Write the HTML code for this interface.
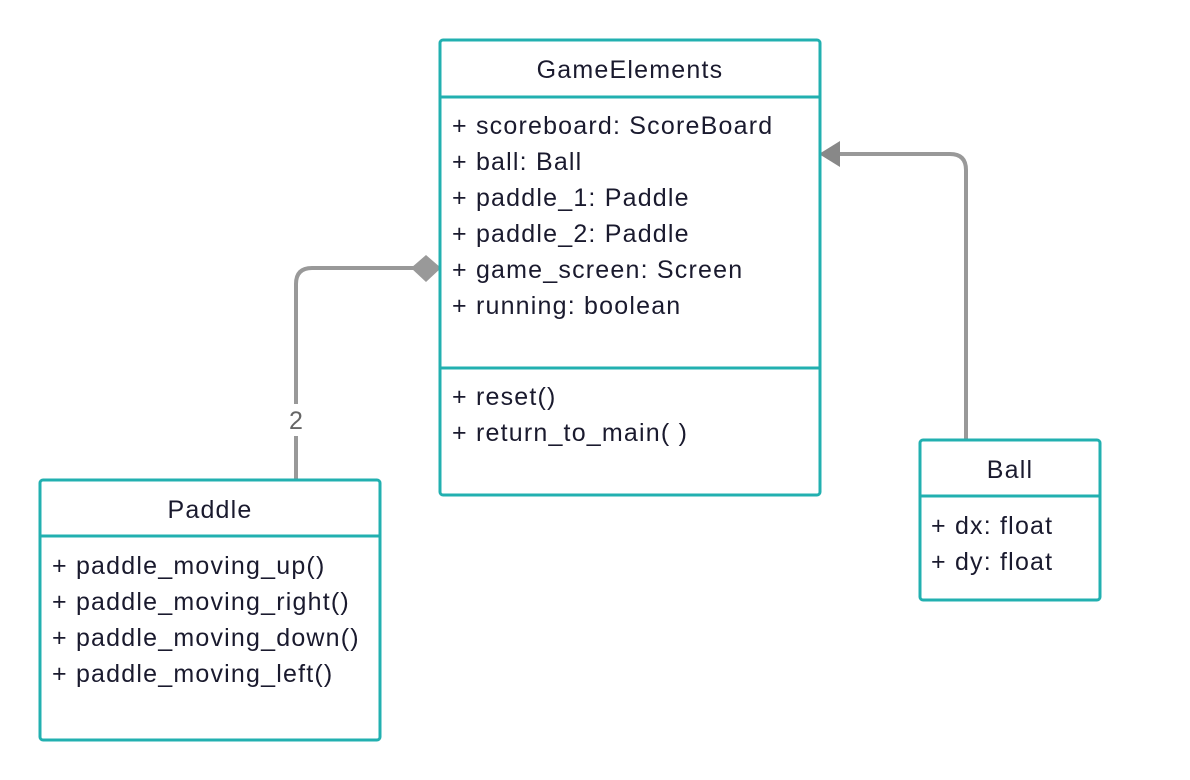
<!DOCTYPE html>
<html><head><style>body{margin:0;background:#fff}svg{display:block}</style></head>
<body>
<svg width="1190" height="780" xmlns="http://www.w3.org/2000/svg" font-family="Liberation Sans, sans-serif" font-size="25" letter-spacing="1.2" fill="#1a1a2e">
<g fill="none" stroke="#999" stroke-width="4">
<path d="M296 480 V436 M296 404 V284 Q296 268 312 268 H415"/>
<path d="M966 440 V170 Q966 154 950 154 H836"/>
</g>
<polygon points="411,268 426,255 441,268 426,282" fill="#999"/>
<polygon points="819,154 840,141 840,167" fill="#888"/>
<text x="296" y="429" text-anchor="middle" fill="#666" letter-spacing="0">2</text>
<g fill="#fff" stroke="#22b0b0" stroke-width="3">
<rect x="440" y="40" width="380" height="455" rx="3"/>
<rect x="40" y="480" width="340" height="260" rx="3"/>
<rect x="920" y="440" width="180" height="160" rx="3"/>
</g>
<g stroke="#22b0b0" stroke-width="3">
<line x1="440" y1="97" x2="820" y2="97"/><line x1="440" y1="368" x2="820" y2="368"/>
<line x1="40" y1="536" x2="380" y2="536"/><line x1="920" y1="496" x2="1100" y2="496"/>
</g>
<text x="630" y="78" text-anchor="middle">GameElements</text>
<g>
<text x="452" y="134">+ scoreboard: ScoreBoard</text>
<text x="452" y="170">+ ball: Ball</text>
<text x="452" y="206">+ paddle_1: Paddle</text>
<text x="452" y="242">+ paddle_2: Paddle</text>
<text x="452" y="278">+ game_screen: Screen</text>
<text x="452" y="314">+ running: boolean</text>
<text x="452" y="405">+ reset()</text>
<text x="452" y="441">+ return_to_main( )</text>
</g>
<text x="210" y="518" text-anchor="middle">Paddle</text>
<text x="52" y="574">+ paddle_moving_up()</text>
<text x="52" y="610">+ paddle_moving_right()</text>
<text x="52" y="646">+ paddle_moving_down()</text>
<text x="52" y="682">+ paddle_moving_left()</text>
<text x="1010" y="478" text-anchor="middle">Ball</text>
<text x="931" y="534">+ dx: float</text>
<text x="931" y="570">+ dy: float</text>
</svg>
</body></html>
